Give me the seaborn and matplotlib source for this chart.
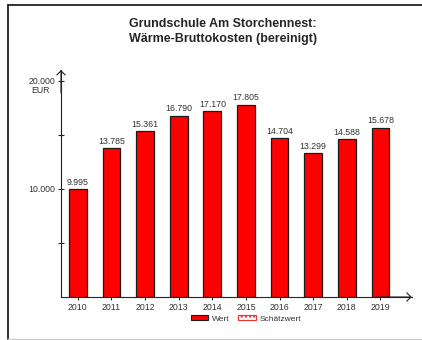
import matplotlib
matplotlib.use("Agg")
import matplotlib.pyplot as plt
from matplotlib.patches import Patch
from matplotlib.lines import Line2D
import seaborn as sns
import pandas as pd

# ---- data ----
years = ["2010", "2011", "2012", "2013", "2014", "2015", "2016", "2017", "2018", "2019"]
values = [9995, 13785, 15361, 16790, 17170, 17805, 14704, 13299, 14588, 15678]
value_labels = ["9.995", "13.785", "15.361", "16.790", "17.170", "17.805",
                "14.704", "13.299", "14.588", "15.678"]
y_ticks = [5000, 10000, 15000, 20000]
y_ticklabels = ["", "10.000", "", "20.000"]
title = "Grundschule Am Storchennest:\nWärme-Bruttokosten (bereinigt)"
unit = "EUR"
legend_labels = ["Wert", "Schätzwert"]

sns.set_style("white")
plt.rcParams["font.family"] = ["Liberation Sans", "DejaVu Sans"]

fig = plt.figure(figsize=(4.22, 3.40), dpi=100)
ax = fig.add_axes([61 / 422, 1 - 297 / 340, (411.7 - 61) / 422, (297 - 70) / 340])

df = pd.DataFrame({"Jahr": years, "Wert": values})
sns.barplot(data=df, x="Jahr", y="Wert", ax=ax, color="#ff0000", width=0.53,
            edgecolor="#1a1a1a", linewidth=0.9, saturation=1)

ax.set_xlim(-0.5, 9.93)
ax.set_ylim(0, 21000)
ax.set_xlabel("")
ax.set_ylabel("")

for i, (v, lab) in enumerate(zip(values, value_labels)):
    ax.annotate(lab, xy=(i, v), xytext=(0, 1.5), textcoords="offset points",
                ha="center", va="bottom", fontsize=6.3, color="#333333")

# spines and arrows
for s in ["top", "right"]:
    ax.spines[s].set_visible(False)
for s in ["left", "bottom"]:
    ax.spines[s].set_color("#222222")
    ax.spines[s].set_linewidth(0.8)
arrow_kw = dict(arrowstyle="->,head_length=0.3,head_width=0.3", lw=0.8, color="#222222",
                shrinkA=0, shrinkB=0, mutation_scale=10)
ax.annotate("", xy=(0, 1.0), xytext=(0, 0.9), xycoords="axes fraction", arrowprops=arrow_kw)
ax.annotate("", xy=(1.0, 0), xytext=(0.9, 0), xycoords="axes fraction", arrowprops=arrow_kw)

ax.set_yticks(y_ticks)
ax.set_yticklabels(y_ticklabels)
ax.tick_params(axis="y", direction="inout", length=4.5, width=0.8, color="#222222",
               labelsize=6.3, labelcolor="#333333", pad=2, left=True)
ax.tick_params(axis="x", direction="out", length=2.5, width=0.8, color="#222222",
               labelsize=6.3, labelcolor="#333333", pad=2, bottom=True)
ax.annotate(unit, xy=(0, 20000), xycoords=("axes fraction", "data"),
            xytext=(-15, -7), textcoords="offset points", ha="center", va="center",
            fontsize=6.3, color="#333333")

fig.text(223 / 422, 1 - 31.5 / 340, title, ha="center", va="center",
         fontsize=9, fontweight="bold", linespacing=1.3)

# legend
h1 = Patch(facecolor="#ff0000", edgecolor="#1a1a1a", linewidth=0.8)
try:
    h2 = Patch(facecolor="white", edgecolor="#1a1a1a", linewidth=0.8,
               hatch="....", hatchcolor="#ff0000")
except Exception:
    h2 = Patch(facecolor="white", edgecolor="#ee3333", linewidth=0.8, hatch="....")
fig.legend([h1, h2], legend_labels, loc="center", bbox_to_anchor=(246 / 422, 1 - 319 / 340),
           ncol=2, frameon=False, fontsize=6, handlelength=2.1, handleheight=0.55,
           columnspacing=1.0, handletextpad=0.5, labelcolor="#333333")

# outer frame
fig.add_artist(Line2D([8 / 422, 1.0], [1 - 4.5 / 340, 1 - 4.5 / 340],
                      transform=fig.transFigure, color="#222222", lw=1.3))
fig.add_artist(Line2D([8 / 422, 8 / 422], [1 - 4.5 / 340, 1 - 338.5 / 340],
                      transform=fig.transFigure, color="#222222", lw=1.3))
fig.add_artist(Line2D([8 / 422, 1.0], [1 - 338.8 / 340, 1 - 338.8 / 340],
                      transform=fig.transFigure, color="#cccccc", lw=1.0))

fig.savefig("out.png", dpi=100)
